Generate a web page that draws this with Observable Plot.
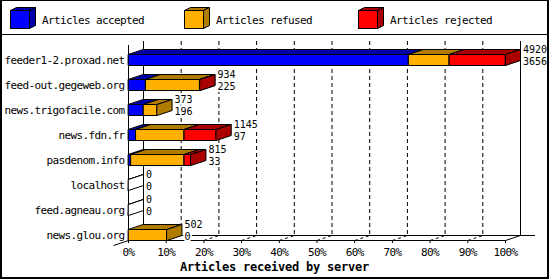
<!DOCTYPE html>
<html><head><meta charset="utf-8">
<script src="https://cdn.jsdelivr.net/npm/d3@7"></script>
<script src="https://cdn.jsdelivr.net/npm/@observablehq/plot@0.6"></script>
<style>
html,body{margin:0;padding:0;background:#fff;}
#wrap{position:relative;width:550px;height:280px;overflow:hidden;background:#fff;}
#legend{position:absolute;left:0;top:0;width:550px;height:34px;}
#chart{position:absolute;left:0;top:35px;width:550px;height:245px;}
#sep{position:absolute;left:0;top:34px;width:549px;height:1px;background:#000;}
#frame{position:absolute;left:0;top:0;width:549px;height:279px;box-sizing:border-box;border-style:solid;border-color:#000;border-width:1px 2px 2px 2px;pointer-events:none;}
</style></head><body>
<div id="wrap"><div id="legend"></div><div id="chart"></div><div id="sep"></div><div id="frame"></div></div>
<script>
// ---- data ----
const servers = ["feeder1-2.proxad.net","feed-out.gegeweb.org","news.trigofacile.com","news.fdn.fr","pasdenom.info","localhost","feed.agneau.org","news.glou.org"];
const offered  = [4920, 934, 373, 1145, 815, 0, 0, 502];
const accepted = [3656, 225, 196,   97,  33, 0, 0,   0];
const refused  = [ 532, 706, 177,  632, 696, 0, 0, 502];
const rejected = [ 732,   3,   0,  416,  86, 0, 0,   0];
const seriesNames = ["Articles accepted","Articles refused","Articles rejected"];
const frontColors = ["#0000ff","#ffb000","#ff0000"];
const sideColors  = ["#0000a8","#b07c00","#aa0000"];
const xTicks = [0,10,20,30,40,50,60,70,80,90,100];
const axisTitle = "Articles received by server";

// ---- layout ----
const FONT = "'DejaVu Sans Mono', monospace";
const W = 550, H = 245;
const X0 = 128, X100 = 505;
const ROW0 = 24.5, ROWSTEP = 25;
const DEPTH_PX = 15, RISE_PX = 5, HALF_PX = 5.5;
const DX = DEPTH_PX / ((X100 - X0) / 100);
const DY = -RISE_PX / ROWSTEP;
const HALF = HALF_PX / ROWSTEP;
const n = servers.length;
const floorFront = (n - 1) + HALF;
const floorBack = floorFront + DY;
const frontTop = -0.58, backTop = -0.74;
const maxTotal = d3.max(offered);
const pct = v => v / maxTotal * 100;

// ---- legend ----
const leg = d3.select("#legend").append("svg").attr("width", 550).attr("height", 34)
  .style("font-family", FONT).style("font-size", "11px").style("letter-spacing", "-0.62px");
seriesNames.forEach((name, k) => {
  const g = leg.append("g").attr("transform", `translate(${10 + 174 * k},0)`);
  g.append("polygon").attr("points", "0.5,10.5 19.5,10.5 25.5,7.5 6.5,7.5").attr("fill", sideColors[k]).attr("stroke", "#000");
  g.append("polygon").attr("points", "19.5,10.5 25.5,7.5 25.5,25.5 19.5,28.5").attr("fill", sideColors[k]).attr("stroke", "#000");
  g.append("rect").attr("x", 0.5).attr("y", 10.5).attr("width", 19).attr("height", 18).attr("fill", frontColors[k]).attr("stroke", "#000");
  g.append("text").attr("x", 32).attr("y", 24).text(name);
});

// ---- 3D bar faces ----
const polys = [];
servers.forEach((s, i) => {
  const vals = [accepted[i], refused[i], rejected[i]];
  const yt = i - HALF, yb = i + HALF;
  let cum = 0;
  const boxes = [];
  vals.forEach((v, k) => {
    if (v > 0) { boxes.push({x1: pct(cum), x2: pct(cum + v), k}); cum += v; }
  });
  if (!boxes.length) boxes.push({x1: 0, x2: 0, k: -1});
  boxes.forEach((b, j) => {
    const fc = b.k < 0 ? "#ffffff" : frontColors[b.k];
    const sc = b.k < 0 ? "#ffffff" : sideColors[b.k];
    const faces = [
      [fc, [[b.x1, yt], [b.x2, yt], [b.x2, yb], [b.x1, yb]]],
      [sc, [[b.x1, yt], [b.x2, yt], [b.x2 + DX, yt + DY], [b.x1 + DX, yt + DY]]],
      [sc, [[b.x2, yt], [b.x2 + DX, yt + DY], [b.x2 + DX, yb + DY], [b.x2, yb]]]
    ];
    faces.forEach(([c, pts], f) => {
      const id = `${i}-${j}-${f}`;
      pts.forEach(([x, y]) => polys.push({id, x, y, c}));
    });
  });
});

const inner = xTicks.filter(t => t > 0 && t < 100);
const rows = d3.range(n);

const chart = Plot.plot({
  width: W, height: H,
  marginLeft: X0, marginRight: W - X100, marginTop: 0, marginBottom: H - (ROW0 + floorFront * ROWSTEP),
  x: {domain: [0, 100], range: [X0, X100]},
  y: {domain: [0, n - 1], range: [ROW0, ROW0 + (n - 1) * ROWSTEP]},
  style: {fontFamily: FONT, fontSize: "11px", letterSpacing: "-0.62px", background: "transparent", overflow: "visible"},
  marks: [
    // back wall grid
    Plot.ruleX(inner, {x: t => t + DX, y1: backTop, y2: floorBack, stroke: "#000", strokeDasharray: "4,3"}),
    Plot.ruleX([0, 100], {x: t => t + DX, y1: backTop, y2: floorBack, stroke: "#000"}),
    // floor
    Plot.ruleY([floorBack], {x1: DX, x2: 100 + 2 * DX, stroke: "#000"}),
    Plot.ruleY([floorFront], {x1: 0, x2: 100, stroke: "#000"}),
    Plot.link(inner, {x1: t => t, y1: floorFront, x2: t => t + DX, y2: floorBack, stroke: "#000", strokeDasharray: "3,3"}),
    Plot.link([100], {x1: t => t, y1: floorFront, x2: t => t + DX, y2: floorBack, stroke: "#000"}),
    Plot.link([0], {x1: t => t - DX, y1: floorFront - DY, x2: t => t + DX, y2: floorBack, stroke: "#000"}),
    // front left axis
    Plot.ruleX([0], {y1: frontTop, y2: floorFront, stroke: "#000"}),
    // bars
    Plot.line(polys, {x: "x", y: "y", z: "id", fill: "c", stroke: "#000", strokeWidth: 1, curve: "linear-closed", strokeLinejoin: "miter"}),
    // value labels
    Plot.text(rows, {x: i => pct(offered[i]), y: i => i, text: i => String(offered[i]), dx: DEPTH_PX + 2.5, dy: -10, textAnchor: "start", fill: "#000", stroke: "#fff", strokeWidth: 4, fontSize: 10}),
    Plot.text(rows, {x: i => pct(offered[i]), y: i => i, text: i => String(accepted[i]), dx: DEPTH_PX + 2.5, dy: 1.5, textAnchor: "start", fill: "#000", stroke: "#fff", strokeWidth: 4, fontSize: 10}),
    // axes
    Plot.axisY({ticks: rows, tickFormat: i => servers[i], tickSize: 0, tickPadding: 4, label: null, fill: "#000"}),
    Plot.axisX({ticks: xTicks, tickFormat: d => d + "%", tickSize: 3, tickPadding: 5, label: null, stroke: "#000", fill: "#000"}),
    Plot.text([axisTitle], {frameAnchor: "bottom", text: d => d, lineAnchor: "middle", dx: 274 - (X0 + X100) / 2, dy: 26.7, fontWeight: "bold", fontSize: 12, fill: "#000"})
  ]
});
const sel = d3.select(chart).selectAll("text");
sel.filter(function() { return this.textContent === axisTitle; }).style("letter-spacing", "-0.22px");
sel.filter(function() { return /^\d+$/.test(this.textContent); }).style("letter-spacing", "0px");
document.getElementById("chart").appendChild(chart);
</script>
</body></html>
